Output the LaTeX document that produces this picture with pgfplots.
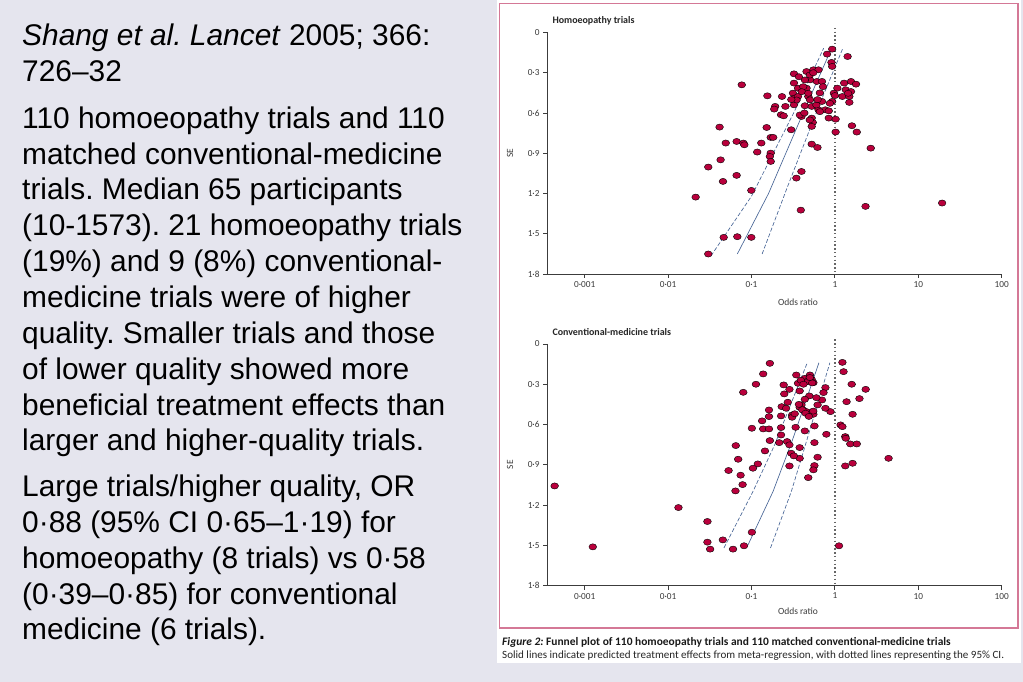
\documentclass[border=0pt]{standalone}
\usepackage{pgfplots}
\pgfplotsset{compat=1.18}
\usepackage{pgfplotstable}
\usepackage{fontspec}
\setmainfont{Liberation Sans}
\newfontfamily\chartfont{Carlito}
\frenchspacing

\definecolor{bg}{RGB}{229,229,238}
\definecolor{framec}{RGB}{212,120,150}
\definecolor{dotc}{RGB}{185,0,60}
\definecolor{regc}{RGB}{70,100,150}
\definecolor{axc}{RGB}{60,60,60}

\pgfplotstableread{
OR SE
0.927 0.124
0.805 0.161
1.42 0.179
0.91 0.223
0.927 0.253
0.323 0.308
0.457 0.291
0.552 0.278
0.636 0.278
0.503 0.353
0.607 0.365
0.70 0.365
0.0764 0.390
0.323 0.377
0.361 0.415
0.457 0.415
1.29 0.377
1.56 0.365
1.79 0.385
1.07 0.415
1.35 0.427
1.56 0.440
0.972 0.452
1.23 0.477
1.49 0.477
1.49 0.521
0.927 0.514
0.70 0.514
0.314 0.452
0.329 0.489
0.361 0.477
0.323 0.539
0.480 0.477
0.503 0.502
0.436 0.546
0.527 0.551
0.636 0.576
0.768 0.576
0.844 0.584
0.155 0.472
0.232 0.477
0.192 0.551
0.187 0.571
0.255 0.551
0.226 0.613
0.243 0.621
0.397 0.626
0.527 0.638
0.542 0.670
0.527 0.700
0.844 0.638
1.02 0.646
1.60 0.695
1.83 0.742
1.02 0.742
0.299 0.725
0.0414 0.705
0.152 0.708
0.170 0.782
0.182 0.782
0.0491 0.824
0.0663 0.812
0.080 0.824
0.082 0.837
0.131 0.824
0.527 0.832
0.618 0.857
2.69 0.862
0.117 0.891
0.170 0.899
0.166 0.924
0.170 0.961
0.0426 0.949
0.0303 1.003
0.397 1.036
0.0663 1.065
0.345 1.085
0.0455 1.110
0.0995 1.177
0.0214 1.227
2.33 1.296
19.3 1.271
0.390 1.324
0.0464 1.527
0.0676 1.522
0.0995 1.527
0.0303 1.651
0.50 0.317
0.437 0.354
0.417 0.404
0.40 0.441
0.48 0.453
0.72 0.404
0.347 0.503
0.60 0.54
0.87 0.528
1.0 0.47
1.44 0.453
0.38 0.615
0.50 0.652
0.66 0.59
0.55 0.30
0.37 0.33
0.66 0.45
0.62 0.50
0.30 0.50
0.43 0.60
}\topdata

\pgfplotstableread{
OR SE
0.166 0.144
0.138 0.223
0.113 0.300
0.0797 0.360
1.23 0.137
1.27 0.206
1.59 0.300
2.34 0.338
1.97 0.407
1.38 0.430
1.63 0.524
1.17 0.603
1.23 0.616
1.33 0.690
1.35 0.703
1.53 0.745
1.83 0.745
1.63 0.889
1.33 0.909
4.40 0.852
1.12 1.504
0.885 0.504
0.79 0.673
0.77 0.325
0.73 0.362
0.70 0.417
0.62 0.454
0.344 0.231
0.436 0.256
0.502 0.231
0.526 0.263
0.457 0.280
0.552 0.288
0.361 0.293
0.243 0.305
0.285 0.338
0.378 0.350
0.247 0.372
0.493 0.387
0.436 0.412
0.272 0.434
0.397 0.454
0.230 0.467
0.260 0.479
0.378 0.472
0.416 0.492
0.457 0.504
0.552 0.524
0.307 0.529
0.226 0.536
0.307 0.546
0.162 0.492
0.162 0.541
0.134 0.573
0.226 0.623
0.226 0.678
0.101 0.628
0.138 0.633
0.162 0.633
0.338 0.621
0.436 0.648
0.568 0.611
0.166 0.720
0.215 0.735
0.267 0.727
0.285 0.752
0.378 0.772
0.568 0.735
0.62 0.844
0.378 0.852
0.299 0.814
0.322 0.834
0.145 0.797
0.0648 0.757
0.0692 0.859
0.119 0.894
0.104 0.926
0.0531 0.943
0.074 0.978
0.0782 1.048
0.0642 1.095
0.285 0.909
0.568 0.906
0.552 0.938
0.479 0.996
0.000436 1.058
0.0133 1.219
0.0296 1.323
0.0296 1.477
0.0319 1.529
0.0453 1.460
0.060 1.529
0.0813 1.504
0.101 1.403
0.00125 1.512
0.77 0.479
0.47 0.28
0.535 0.29
0.39 0.27
0.406 0.49
0.445 0.516
0.488 0.54
0.50 0.25
0.42 0.30
0.33 0.52
0.60 0.40
0.37 0.45
0.55 0.50
}\botdata

\begin{document}
\begin{tikzpicture}
\useasboundingbox (0,0) rectangle (1023bp,682bp);
\fill[bg] (0,0) rectangle (1023bp,682bp);
\fill[white] (497bp,19bp) rectangle (1021bp,682bp);
\draw[framec, line width=1.3bp] (499.5bp,54bp) rectangle (1018bp,678.5bp);

\node[anchor=base west, align=left, inner sep=0, font=\fontsize{30}{36}\selectfont, text=black] at (22bp,600.3bp)
 {\textit{Shang et al. Lancet} 2005; 366:\\726–32};
\node[anchor=base west, align=left, inner sep=0, font=\fontsize{30}{36}\selectfont, text=black] at (22bp,231bp)
 {110 homoeopathy trials and 110\\matched conventional-medicine\\trials. Median 65 participants\\(10-1573). 21 homoeopathy trials\\(19\%) and 9 (8\%) conventional-\\medicine trials were of higher\\quality. Smaller trials and those\\of lower quality showed more\\beneficial treatment effects than\\larger and higher-quality trials.};
\node[anchor=base west, align=left, inner sep=0, font=\fontsize{30}{36}\selectfont, text=black] at (22bp,42bp)
 {Large trials/higher quality, OR\\0·88 (95\% CI 0·65–1·19) for\\homoeopathy (8 trials) vs 0·58\\(0·39–0·85) for conventional\\medicine (6 trials).};

\node[anchor=base west, inner sep=0, font=\chartfont\fontsize{11.5}{13}\selectfont, text=black!90] at (502bp,37bp)
 {\textbf{\textit{Figure 2:} Funnel plot of 110 homoeopathy trials and 110 matched conventional-medicine trials}};
\node[anchor=base west, inner sep=0, font=\chartfont\fontsize{11.1}{13}\selectfont, text=black!85] at (502bp,24bp)
 {Solid lines indicate predicted treatment effects from meta-regression, with dotted lines representing the 95\% CI.};

% Top: homoeopathy
\begin{axis}[at={(547bp,649.5bp)}, anchor=north west,
  scale only axis, width=454.7bp, height=241.5bp,
  xmode=log, xmin=0.000353, xmax=100,
  ymin=0, ymax=1.8, y dir=reverse,
  axis x line=bottom, axis y line=left,
  axis line style={-, draw=axc, line width=0.9bp},
  xtick={0.001,0.01,0.1,1,10,100},
  xticklabels={0·001,0·01,0·1,1,10,100},
  ytick={0,0.3,0.6,0.9,1.2,1.5,1.8},
  yticklabels={0,0·3,0·6,0·9,1·2,1·5,1·8},
  xminorticks=false, yminorticks=false,
  tick align=outside, major tick length=4bp,
  tick style={draw=axc, line width=0.9bp},
  tick label style={font=\chartfont\fontsize{9.3}{10}\selectfont, text=axc},
  xlabel={Odds ratio}, ylabel={SE},
  label style={font=\chartfont\fontsize{9.5}{11}\selectfont, text=axc},
  xlabel style={at={(axis description cs:0.552,0)}, yshift=-28bp, anchor=center},
  ylabel style={at={(axis description cs:-0.0814,0.5)}, anchor=center},
  title={Homoeopathy trials},
  title style={font=\chartfont\bfseries\fontsize{10}{12}\selectfont, text=black!85,
    at={(axis description cs:0,1)}, anchor=base west, yshift=3bp, xshift=2bp},
  clip=false]
\addplot[only marks, mark=*, mark size=3.1bp, mark options={draw=none, fill=dotc, xscale=1.25}] table[x=OR, y=SE] {\topdata};
\addplot[black!60, line width=1.4bp, dash pattern=on 1.4bp off 2.4bp] coordinates {(1,-0.035) (1,1.8)};
\addplot[regc, line width=0.65bp] coordinates {(0.0676,1.651) (0.16,1.2) (0.45,0.55) (0.91,0.12)};
\addplot[regc, line width=0.65bp, dash pattern=on 4bp off 2bp] coordinates {(0.0327,1.664) (0.10,1.22) (0.32,0.60) (0.733,0.117)};
\addplot[regc, line width=0.65bp, dash pattern=on 4bp off 2bp] coordinates {(0.134,1.651) (0.27,1.15) (0.64,0.55) (1.24,0.12)};
\end{axis}

% Bottom: conventional medicine
\begin{axis}[at={(547bp,338bp)}, anchor=north west,
  scale only axis, width=454.7bp, height=241.5bp,
  xmode=log, xmin=0.000353, xmax=100,
  ymin=0, ymax=1.8, y dir=reverse,
  axis x line=bottom, axis y line=left,
  axis line style={-, draw=axc, line width=0.9bp},
  xtick={0.001,0.01,0.1,1,10,100},
  xticklabels={0·001,0·01,0·1,1,10,100},
  ytick={0,0.3,0.6,0.9,1.2,1.5,1.8},
  yticklabels={0,0·3,0·6,0·9,1·2,1·5,1·8},
  xminorticks=false, yminorticks=false,
  tick align=outside, major tick length=4bp,
  tick style={draw=axc, line width=0.9bp},
  tick label style={font=\chartfont\fontsize{9.3}{10}\selectfont, text=axc},
  xlabel={Odds ratio}, ylabel={SE},
  label style={font=\chartfont\fontsize{9.5}{11}\selectfont, text=axc},
  xlabel style={at={(axis description cs:0.552,0)}, yshift=-26bp, anchor=center},
  ylabel style={at={(axis description cs:-0.0814,0.5)}, anchor=center},
  title={Conventional-medicine trials},
  title style={font=\chartfont\bfseries\fontsize{10}{12}\selectfont, text=black!85,
    at={(axis description cs:0,1)}, anchor=base west, yshift=2.5bp, xshift=2bp},
  clip=false]
\addplot[only marks, mark=*, mark size=3.1bp, mark options={draw=none, fill=dotc, xscale=1.25}] table[x=OR, y=SE] {\botdata};
\addplot[black!60, line width=1.4bp, dash pattern=on 1.4bp off 2.4bp] coordinates {(1,-0.035) (1,1.8)};
\addplot[regc, line width=0.65bp] coordinates {(0.088,1.51) (0.092,1.49) (0.181,1.1) (0.31,0.715) (0.643,0.14)};
\addplot[regc, line width=0.65bp, dash pattern=on 4bp off 2bp] coordinates {(0.0467,1.52) (0.104,1.1) (0.19,0.75) (0.466,0.14)};
\addplot[regc, line width=0.65bp, dash pattern=on 4bp off 2bp] coordinates {(0.169,1.52) (0.30,1.1) (0.42,0.8) (0.87,0.14)};
\end{axis}
\end{tikzpicture}
\end{document}
